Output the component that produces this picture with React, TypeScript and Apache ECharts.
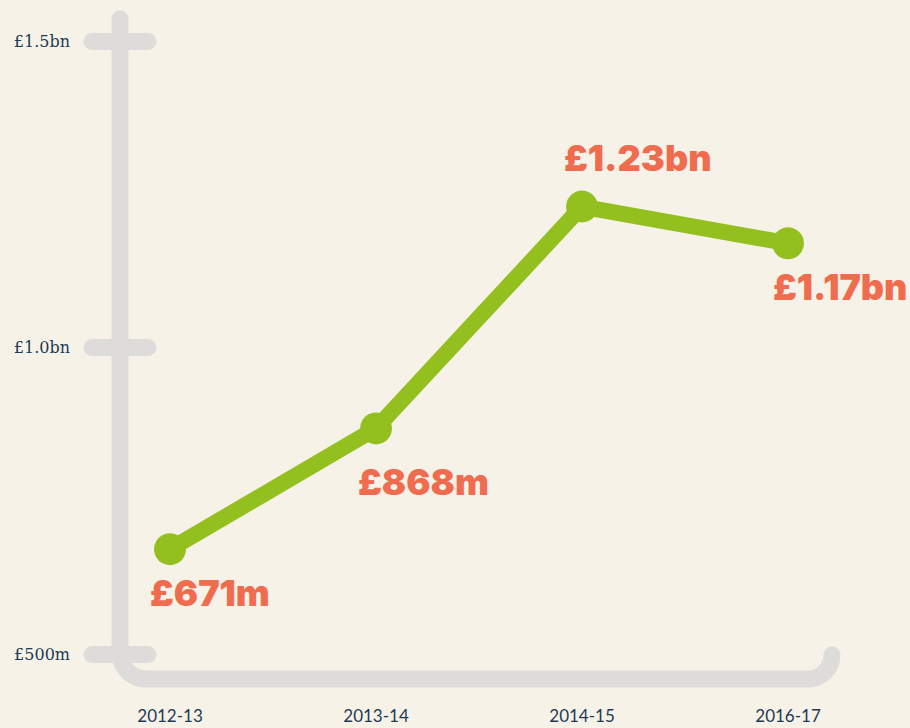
import React, { useEffect, useRef } from "react";
import * as echarts from "echarts";

const categories = ["2012-13", "2013-14", "2014-15", "2016-17"];
const values = [671, 868, 1230, 1170];
const valueLabels = ["£671m", "£868m", "£1.23bn", "£1.17bn"];
const yTickLabels: Record<number, string> = { 500: "£500m", 1000: "£1.0bn", 1500: "£1.5bn" };
const labelPositions: [number, number][] = [
  [-4, 60],
  [-2, 70],
  [-2, -33],
  [1, 60],
];

const AXIS_PATH = "M120 19 L120 653 A26 26 0 0 0 146 679 L808 679 A24 24 0 0 0 832 655";

export default function App() {
  const ref = useRef<HTMLDivElement>(null);
  useEffect(() => {
    document.body.style.margin = "0";
    document.body.style.background = "#f7f2e8";
    try {
      echarts.graphic.registerShape("axisShape", echarts.graphic.extendPath(AXIS_PATH, {}) as any);
    } catch (e) {}
    const chart = echarts.init(ref.current!, null, { renderer: "svg" });
    const gray = "#dddcda";
    const tickCommon = {
      type: "value" as const,
      min: 500,
      max: 1500,
      interval: 500,
      position: "left" as const,
      offset: 50,
      axisLine: { show: false },
      splitLine: { show: false },
    };
    chart.setOption({
      animation: false,
      backgroundColor: "#f7f2e8",
      grid: { left: 170, right: 122, top: 41, bottom: 74 },
      graphic: [
        {
          type: "axisShape",
          x: 0,
          y: 0,
          z: 0,
          silent: true,
          style: { fill: null, stroke: gray, lineWidth: 17, lineCap: "round", lineJoin: "round" },
        },
      ],
      xAxis: {
        type: "category",
        data: categories,
        boundaryGap: false,
        axisLine: { show: false },
        axisTick: { show: false },
        axisLabel: {
          margin: 53,
          fontFamily: "Lato",
          fontSize: 17,
          color: "#1d3a55",
        },
      },
      yAxis: [
        {
          ...tickCommon,
          axisTick: { show: true, inside: false, length: 28, lineStyle: { color: gray, width: 17, cap: "round" } },
          axisLabel: {
            margin: 50,
            fontFamily: "DejaVu Serif",
            fontSize: 16,
            color: "#1d3a55",
            formatter: (v: number) => yTickLabels[v] ?? "",
          },
        },
        {
          ...tickCommon,
          axisTick: { show: true, inside: true, length: 28, lineStyle: { color: gray, width: 17, cap: "round" } },
          axisLabel: { show: false },
        },
      ],
      series: [
        {
          type: "line",
          yAxisIndex: 0,
          data: values.map((v, i) => ({
            value: v,
            label: {
              show: true,
              position: labelPositions[i],
              align: "left",
              verticalAlign: "middle",
              formatter: valueLabels[i],
            },
          })),
          symbol: "circle",
          symbolSize: 32,
          showAllSymbol: true,
          lineStyle: { color: "#93c01f", width: 16 },
          itemStyle: { color: "#93c01f" },
          label: {
            show: true,
            fontFamily: "Inter",
            fontWeight: 900,
            fontSize: 36,
            color: "#ef6c4f",
          },
          z: 3,
        },
      ],
    });
    return () => chart.dispose();
  }, []);
  return <div ref={ref} style={{ width: 910, height: 728 }} />;
}
